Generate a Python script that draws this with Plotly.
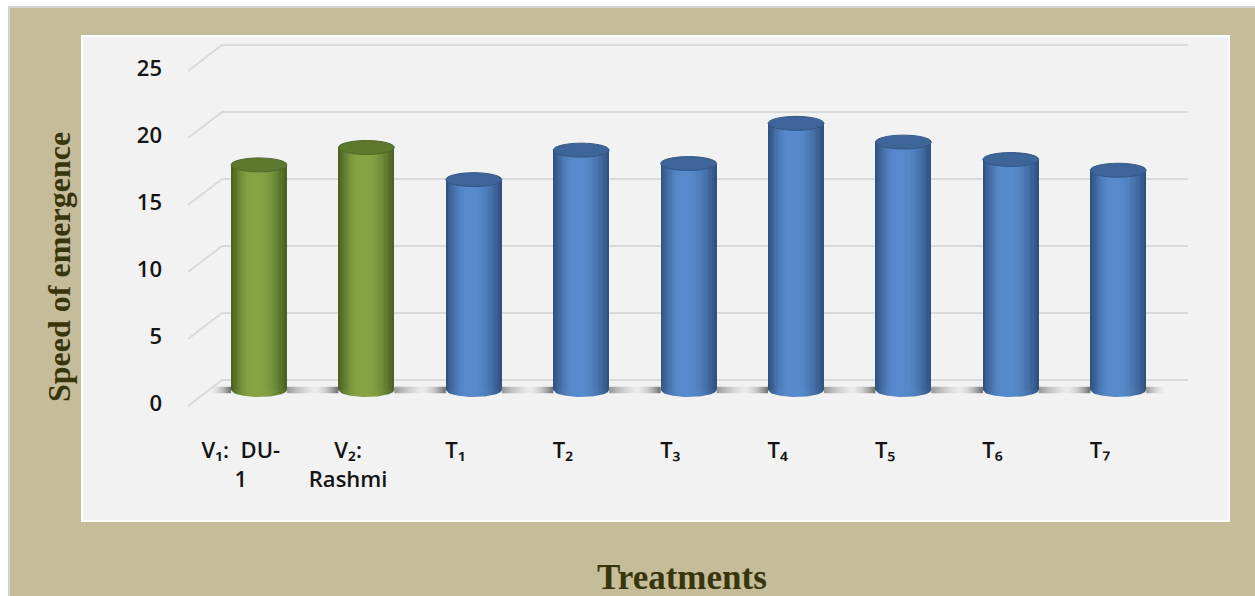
import numpy as np
import plotly.graph_objects as go

# ---------------- data ----------------
labels = ["V₁:  DU-<br>1", "V₂:<br>Rashmi",
          "T₁", "T₂", "T₃", "T₄", "T₅", "T₆", "T₇"]
speed_of_emergence = [16.8, 18.1, 15.7, 17.9, 16.9, 19.9, 18.5, 17.2, 16.4]
group = ["variety", "variety"] + ["treatment"] * 7
y_ticks = [0, 5, 10, 15, 20, 25]

# ---------------- geometry / style ----------------
FIG_W, FIG_H = 1255, 596
PLOT_L, PLOT_R, PLOT_T, PLOT_B = 188, 1195, 30, 420
PX_PER_X = 107.4          # pixels per category step
PX_PER_Y = 13.4           # pixels per value unit
ZERO_PX = 390             # floor of the cylinders
X_START = -0.661
x_range = [X_START, X_START + (PLOT_R - PLOT_L) / PX_PER_X]
y_range = [-(PLOT_B - ZERO_PX) / PX_PER_Y, (ZERO_PX - PLOT_T) / PX_PER_Y]

BAR_W = 0.52              # cylinder diameter in category units
CAP_H = 0.52              # half height of the elliptic caps (value units)
LABEL_SHIFT_X = 0.17      # front plane (category labels) offset
LABEL_SHIFT_Y = 0.97      # front plane (value labels) offset
BACK_DY = 0.75            # back wall offset
FRONT_DY = 1.19
BACK_X0 = X_START + 34 / PX_PER_X
BACK_X1 = X_START + 1000 / PX_PER_X

palette = {
    "variety":   dict(edge=(76, 99, 35), hi=(134, 164, 68), cap="#5d792d", rim="#50692a"),
    "treatment": dict(edge=(49, 83, 130), hi=(87, 138, 204), cap="#3e6599", rim="#345783"),
}
N_LAYERS = 12
HILITE = 0.42
MIN_F = 0.15


def paper_x(px):
    return (px - PLOT_L) / (PLOT_R - PLOT_L)


def paper_y(py):
    return (PLOT_B - py) / (PLOT_B - PLOT_T)


def shade(style, t):
    e, h = np.array(style["edge"]), np.array(style["hi"])
    c = e + (h - e) * np.sin(np.clip(t, 0, 1) * np.pi / 2)
    return "rgb(%d,%d,%d)" % tuple(c.round().astype(int))


def layer_t(k):
    return k / (N_LAYERS - 1)


def layer_f(k):
    return 1 - (1 - MIN_F) * layer_t(k)


idx = np.arange(len(labels))
fig = go.Figure()

# cylinder bodies: nested bars give the round shading
for k in range(N_LAYERS):
    f = layer_f(k)
    fig.add_trace(go.Bar(
        x=idx, y=speed_of_emergence,
        width=BAR_W * f, offset=BAR_W * (HILITE * (1 - f) - 0.5),
        marker=dict(color=[shade(palette[g], layer_t(k)) for g in group], line=dict(width=0)),
        showlegend=False,
        hoverinfo="skip" if k else "y",
    ))

# floor shadow between the cylinders
gap_edges = [(X_START + 0.2, idx[0] - BAR_W / 2, "first")]
for i in idx[:-1]:
    gap_edges.append((i + BAR_W / 2, i + 1 - BAR_W / 2, "mid"))
gap_edges.append((idx[-1] + BAR_W / 2, idx[-1] + 0.45, "last"))
shadow_scales = {
    "first": [[0, "rgba(235,235,235,0.1)"], [1, "rgba(85,85,85,0.85)"]],
    "mid": [[0, "rgba(110,110,110,0.7)"], [0.55, "rgba(215,215,215,0.25)"],
            [0.75, "rgba(165,165,165,0.5)"], [1, "rgba(85,85,85,0.85)"]],
    "last": [[0, "rgba(110,110,110,0.7)"], [1, "rgba(235,235,235,0.1)"]],
}
for x0, x1, kind in gap_edges:
    fig.add_trace(go.Scatter(
        x=[x0, x1, x1, x0, x0], y=[-0.24, -0.24, 0.24, 0.24, -0.24],
        mode="lines", line=dict(width=0), fill="toself",
        fillgradient=dict(type="horizontal", colorscale=shadow_scales[kind], start=x0, stop=x1),
        showlegend=False, hoverinfo="skip",
    ))

# rounded bottoms of the cylinders
u = np.linspace(0, 1, 41)
f_min = np.maximum.reduce([1 - u / HILITE, 1 - (1 - u) / (1 - HILITE), np.full_like(u, MIN_F)])
t_u = (1 - f_min) / (1 - MIN_F)
for i, g in zip(idx, group):
    xs = i - BAR_W / 2 + u * BAR_W
    ys = -CAP_H * np.sqrt(np.clip(1 - ((xs - i) / (BAR_W / 2)) ** 2, 0, 1))
    cs = [[float(uu), shade(palette[g], tt)] for uu, tt in zip(u[::4], t_u[::4])]
    fig.add_trace(go.Scatter(
        x=np.concatenate([xs, [xs[-1], xs[0]]]),
        y=np.concatenate([ys, [0.05, 0.05]]),
        mode="lines", line=dict(width=0), fill="toself",
        fillgradient=dict(type="horizontal", colorscale=cs, start=xs[0], stop=xs[-1]),
        showlegend=False, hoverinfo="skip",
    ))

# empty trace binding the label axes
fig.add_trace(go.Scatter(x=[], y=[], xaxis="x2", yaxis="y2", showlegend=False, hoverinfo="skip"))

shapes = [
    # outer frame and inner panel
    dict(type="rect", xref="paper", yref="paper", layer="below",
         x0=paper_x(9), x1=paper_x(1262), y0=paper_y(600), y1=paper_y(7),
         fillcolor="#c5bd99", line=dict(color="#d2d2d2", width=2)),
    dict(type="rect", xref="paper", yref="paper", layer="below",
         x0=paper_x(82), x1=paper_x(1229), y0=paper_y(521), y1=paper_y(36),
         fillcolor="#f2f2f2", line=dict(color="#ffffff", width=2)),
]
# back-wall gridlines with their perspective returns
for v in y_ticks:
    shapes.append(dict(type="line", xref="x", yref="y", layer="below",
                       x0=BACK_X0, x1=BACK_X1, y0=v + BACK_DY, y1=v + BACK_DY,
                       line=dict(color="#d9d9d9", width=2)))
    shapes.append(dict(type="line", xref="x", yref="y", layer="below",
                       x0=X_START, x1=BACK_X0, y0=v - FRONT_DY, y1=v + BACK_DY,
                       line=dict(color="#d9d9d9", width=2)))
# elliptic tops of the cylinders
for i, v, g in zip(idx, speed_of_emergence, group):
    shapes.append(dict(type="circle", xref="x", yref="y", layer="above",
                       x0=i - BAR_W / 2, x1=i + BAR_W / 2, y0=v - CAP_H, y1=v + CAP_H,
                       fillcolor=palette[g]["cap"], line=dict(color=palette[g]["rim"], width=1)))

x_label_font = dict(family="Open Sans", size=22, color="#141414", weight=600)
y_label_font = dict(family="Open Sans", size=22, color="#141414", weight=600)
fig.update_layout(
    width=FIG_W, height=FIG_H, autosize=False,
    margin=dict(l=PLOT_L, r=FIG_W - PLOT_R, t=PLOT_T, b=FIG_H - PLOT_B, pad=0),
    paper_bgcolor="#ffffff", plot_bgcolor="rgba(0,0,0,0)",
    barmode="overlay", bargap=0,
    showlegend=False,
    shapes=shapes,
    xaxis=dict(range=x_range, showgrid=False, zeroline=False, showline=False,
               showticklabels=False, fixedrange=True),
    yaxis=dict(range=y_range, showgrid=False, zeroline=False, showline=False,
               showticklabels=False, fixedrange=True),
    xaxis2=dict(overlaying="x", anchor="y2", side="bottom",
                range=[x_range[0] + LABEL_SHIFT_X, x_range[1] + LABEL_SHIFT_X],
                tickmode="array", tickvals=list(idx), ticktext=labels,
                showgrid=False, zeroline=False, showline=False, ticks="",
                ticklabelstandoff=15, tickfont=x_label_font, fixedrange=True),
    yaxis2=dict(overlaying="y", anchor="x2", side="left",
                range=[y_range[0] + LABEL_SHIFT_Y, y_range[1] + LABEL_SHIFT_Y],
                tickmode="array", tickvals=y_ticks,
                showgrid=False, zeroline=False, showline=False, ticks="",
                ticklabelstandoff=25, tickfont=y_label_font, fixedrange=True),
    annotations=[
        dict(text="<b>Speed of emergence</b>", xref="paper", yref="paper",
             x=paper_x(59), y=paper_y(267), textangle=-90, showarrow=False,
             xanchor="center", yanchor="middle",
             font=dict(family="Liberation Serif", size=32, color="#38350c")),
        dict(text="<b>Treatments</b>", xref="paper", yref="paper",
             x=paper_x(682), y=paper_y(577), showarrow=False,
             xanchor="center", yanchor="middle",
             font=dict(family="Liberation Serif", size=35, color="#38350c")),
    ],
)

fig.write_html("out.html")
